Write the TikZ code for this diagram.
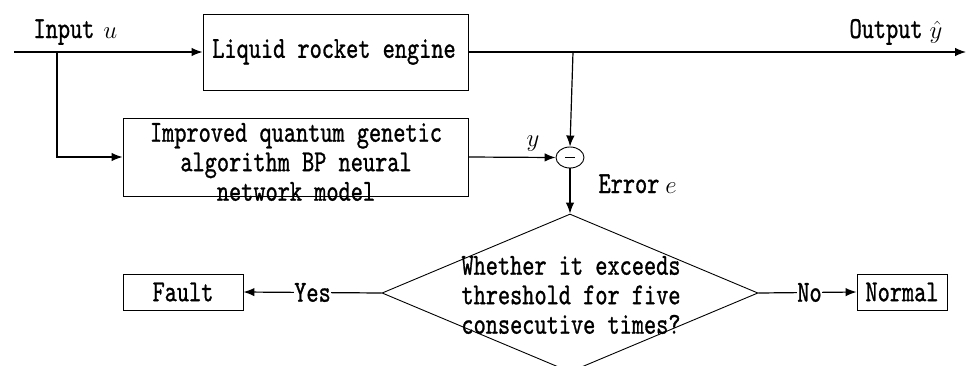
\documentclass[tikz,border=0pt]{standalone}
\usepackage{fontspec}
\usetikzlibrary{arrows.meta,shapes.geometric}
% narrow typewriter face for all labels
\newfontfamily\diagfont{lmmono10-regular.otf}[FakeStretch=0.76,FakeBold=0.9]
\tikzset{
  diag/.style={font=\diagfont\fontsize{30.5}{29.5}\selectfont, text=black},
  mathlbl/.style={font=\fontsize{24}{24}\selectfont},
  blockbox/.style={draw, line width=0.9pt, inner sep=0pt},
  conn/.style={line width=1.2pt},
  arr/.style={conn, -{Latex[length=11pt,width=8.5pt]}},
  branchlbl/.style={diag, fill=white, inner xsep=0pt, inner ysep=2pt},
}
\begin{document}
\begin{tikzpicture}[x=1pt,y=-1pt]
\clip (0,0) rectangle (966,365);
\fill[white] (0,0) rectangle (966,365);

% blocks
\node[blockbox, minimum width=265pt, minimum height=76pt] (eng) at (335.5,52) {};
\node[diag] at (334,52) {Liquid rocket engine};
\node[blockbox, minimum width=345pt, minimum height=78pt] (nn) at (295.5,157) {};
\node[diag, align=center] at (296,162) {Improved quantum genetic\\algorithm BP neural\\network model};

% comparison junction
\node[ellipse, draw, line width=0.9pt, minimum width=28pt, minimum height=21pt, inner sep=0pt] (sum) at (570,157.5) {};
\draw[line width=1.4pt] ([xshift=-5pt]sum.center) -- ([xshift=5pt]sum.center);

% decision
\node[diamond, draw, line width=0.9pt, minimum width=376pt, minimum height=158pt, inner sep=0pt] (dec) at (570,293) {};
\node[diag, align=center] at (571,295) {Whether it exceeds\\threshold for five\\consecutive times?};

\node[blockbox, minimum width=120pt, minimum height=36pt] (fault) at (183,292) {};
\node[diag] at (fault.center) {Fault};
\node[blockbox, minimum width=90pt, minimum height=36pt] (normal) at (902,292) {};
\node[diag] at (normal.center) {Normal};

% signal points
\coordinate (in) at (14,52);
\coordinate (split) at (57,52);
\coordinate (out) at (966,52);
\coordinate (tap) at (573,52);

% connectors
\draw[arr] (in) -- (eng.west);
\draw[arr] (split) |- (nn.west);
\draw[arr] (eng.east) -- (out);
\draw[arr] (tap) -- (sum.north);
\draw[arr] (nn.east) -- (sum.west);
\draw[arr] (sum.south) -- (dec.north);
\draw[arr] (dec.west) -- node[branchlbl] {Yes} (fault.east);
\draw[arr] (dec.east) -- node[branchlbl, pos=0.52] {No} (normal.west);

% signal labels
\node[diag, anchor=base west] (lin) at (30,38) {Input\hspace{9pt}\fontsize{24}{24}\selectfont$u$};
\node[diag, anchor=base west] (lout) at (846,38) {Output\hspace{7pt}\fontsize{24}{24}\selectfont$\hat{y}$};
\node[diag, anchor=base west] (lerr) at (595,193) {Error\hspace{6pt}\fontsize{24}{24}\selectfont$e$};
\node[mathlbl, anchor=base] (ly) at (533,146) {$y$};
\end{tikzpicture}
\end{document}
